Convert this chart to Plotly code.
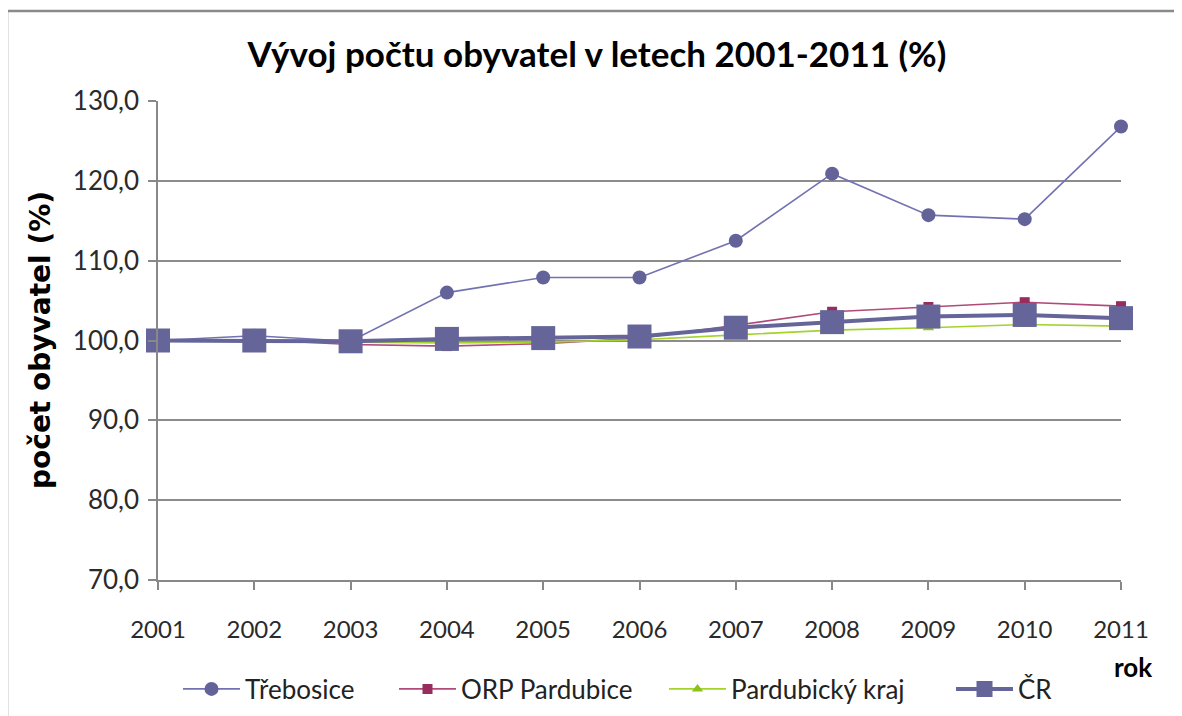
import plotly.graph_objects as go

years = [2001, 2002, 2003, 2004, 2005, 2006, 2007, 2008, 2009, 2010, 2011]
trebosice = [100.0, 100.6, 99.9, 106.0, 107.9, 107.9, 112.5, 120.9, 115.7, 115.2, 126.8]
orp_pardubice = [100.0, 100.1, 99.5, 99.3, 99.6, 100.3, 101.9, 103.6, 104.2, 104.8, 104.3]
pardubicky_kraj = [100.0, 100.0, 99.8, 99.7, 99.8, 100.1, 100.7, 101.3, 101.6, 102.0, 101.8]
cr = [100.0, 100.0, 99.9, 100.2, 100.3, 100.5, 101.6, 102.3, 103.0, 103.2, 102.8]

title_text = "Vývoj počtu obyvatel v letech 2001-2011 (%)"
y_title = "počet obyvatel (%)"
x_title = "rok"

FONT = "Lato"
OFF = 8  # page body margin
W, H = 1182 - OFF, 716 - OFF
PX0, PX1, PY0, PY1 = 158, 1121, 101, 580  # plot area in page pixels
L, T = PX0 - OFF, PY0 - OFF
R, B = W - (PX1 - OFF), H - (PY1 - OFF)
pw, ph = PX1 - PX0, PY1 - PY0


def fx(px):
    return (px - PX0) / pw


def fy(py):
    return (PY1 - py) / ph


fig = go.Figure()
fig.add_trace(go.Scatter(x=years, y=trebosice, name="Třebosice", mode="lines+markers",
                         line=dict(color="#7272b2", width=1.6), legend="legend",
                         marker=dict(symbol="circle", size=14, color="#63639a"), cliponaxis=False))
fig.add_trace(go.Scatter(x=years, y=orp_pardubice, name="ORP Pardubice", mode="lines+markers",
                         line=dict(color="#b04a78", width=1.6), legend="legend2",
                         marker=dict(symbol="square", size=10, color="#992c5e"), cliponaxis=False))
fig.add_trace(go.Scatter(x=years, y=pardubicky_kraj, name="Pardubický kraj", mode="lines+markers",
                         line=dict(color="#a4d32a", width=1.6), legend="legend3",
                         marker=dict(symbol="triangle-up", size=10, color="#8cc21d"), cliponaxis=False))
fig.add_trace(go.Scatter(x=years, y=cr, name="ČR", mode="lines+markers",
                         line=dict(color="#65659a", width=4), legend="legend4",
                         marker=dict(symbol="square", size=24, color="#65659a"), cliponaxis=False))

# outer chart frame (top and left edges visible)
fig.add_shape(type="line", xref="paper", yref="paper", x0=fx(7), x1=fx(1200), y0=fy(11), y1=fy(11),
              line=dict(color="#8a8a8a", width=2.5), layer="below")
fig.add_shape(type="line", xref="paper", yref="paper", x0=fx(7), x1=fx(7), y0=fy(11), y1=fy(740),
              line=dict(color="#8a8a8a", width=2.5), layer="below")

legend_font = dict(family=FONT, size=26, color="#222222")


def legend_at(px):
    return dict(orientation="h", x=fx(px - 4), xanchor="left", y=fy(689), yanchor="middle",
                font=legend_font, itemwidth=57, bgcolor="rgba(0,0,0,0)")


fig.update_layout(
    width=W, height=H,
    margin=dict(l=L, r=R, t=T, b=B, autoexpand=False),
    paper_bgcolor="white", plot_bgcolor="white",
    font=dict(family=FONT, size=24, color="#222222"),
    title=dict(text=title_text, xref="container", x=(597 - OFF) / W, xanchor="center",
               yref="container", y=1 - (55 - OFF) / H, yanchor="middle",
               font=dict(family=FONT, size=35, color="#000000", weight="bold")),
    showlegend=True,
    legend=legend_at(182),
    legend2=legend_at(398),
    legend3=legend_at(668),
    legend4=legend_at(955),
    xaxis=dict(range=[2001, 2011], tickmode="array", tickvals=years, ticktext=[str(y) for y in years],
               showgrid=False, showline=True, linecolor="#888888", linewidth=1.5,
               ticks="outside", ticklen=8, tickcolor="#888888", tickwidth=1.5,
               ticklabelstandoff=19,
               tickfont=dict(family=FONT, size=24, color="#2a2a2a"), zeroline=False),
    yaxis=dict(range=[70, 130], tickmode="array", tickvals=[70, 80, 90, 100, 110, 120, 130],
               ticktext=["70,0", "80,0", "90,0", "100,0", "110,0", "120,0", "130,0"],
               showgrid=True, gridcolor="#8c8c8c", gridwidth=1.5,
               showline=True, linecolor="#888888", linewidth=1.5,
               ticks="outside", ticklen=8, tickcolor="#888888", tickwidth=1.5,
               ticklabelstandoff=4,
               tickfont=dict(family=FONT, size=26, color="#2a2a2a"), zeroline=False),
)

fig.add_annotation(text=y_title, xref="paper", yref="paper", x=fx(40), y=fy(340),
                   xanchor="center", yanchor="middle", showarrow=False, textangle=-90,
                   font=dict(family="DejaVu Sans", size=28, color="#000000", weight="bold"))

fig.add_annotation(text=x_title, xref="paper", yref="paper", x=fx(1133), y=fy(667),
                   xanchor="center", yanchor="middle", showarrow=False,
                   font=dict(family=FONT, size=26, color="#000000", weight="bold"))

fig.write_html("out.html")
